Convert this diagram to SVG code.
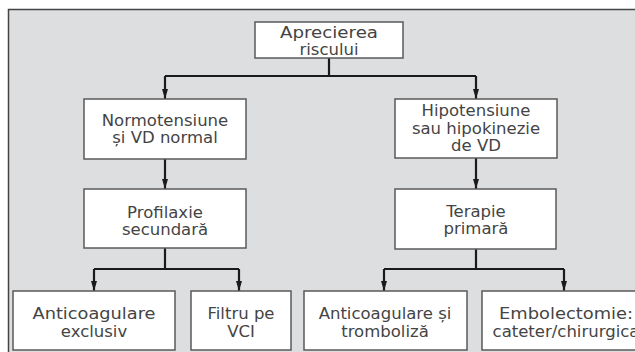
<svg xmlns="http://www.w3.org/2000/svg" width="635" height="352" viewBox="0 0 635 352">
  <defs>
    <marker id="tip" viewBox="0 0 10 6" refX="10" refY="3" markerWidth="10" markerHeight="6" markerUnits="userSpaceOnUse" orient="auto">
      <path d="M0,0 L10,3 L0,6 Z" fill="#1a1a1a"/>
    </marker>
  </defs>
  <style>
    .box { fill: #ffffff; stroke: #5a5a5a; stroke-width: 1.5; }
    .lbl { font-family: "DejaVu Sans", "Liberation Sans", sans-serif; font-size: 16.5px; fill: #444444; text-anchor: middle; }
    .edge { fill: none; stroke: #1a1a1a; stroke-width: 2.2; }
    .arr { fill: none; stroke: #1a1a1a; stroke-width: 2.2; marker-end: url(#tip); }
  </style>

  <!-- page and panel -->
  <rect x="0" y="0" width="635" height="352" fill="#ffffff"/>
  <rect x="8.5" y="9.5" width="640" height="350" fill="#dddee0" stroke="#444444" stroke-width="1.5"/>

  <!-- connectors -->
  <g id="connectors">
    <path class="edge" d="M329,58 V76 M165,76 H476"/>
    <path class="arr" d="M165,76 V99"/>
    <path class="arr" d="M476,76 V99"/>
    <path class="arr" d="M165,159 V189"/>
    <path class="arr" d="M476,158 V189"/>
    <path class="edge" d="M165,248 V269 M94,269 H239"/>
    <path class="arr" d="M94,269 V291"/>
    <path class="arr" d="M239,269 V291"/>
    <path class="edge" d="M476,249 V269 M384,269 H564"/>
    <path class="arr" d="M384,269 V291"/>
    <path class="arr" d="M564,269 V291"/>
  </g>

  <g id="risk">
    <rect class="box" x="255" y="22" width="148" height="36"/>
    <text class="lbl" x="329" y="38" textLength="98" lengthAdjust="spacingAndGlyphs">Aprecierea</text>
    <text class="lbl" x="329" y="55">riscului</text>
  </g>

  <g id="normotension">
    <rect class="box" x="84" y="99" width="162" height="60"/>
    <text class="lbl" x="165" y="126">Normotensiune</text>
    <text class="lbl" x="165" y="143">și VD normal</text>
  </g>

  <g id="hypotension">
    <rect class="box" x="395" y="99" width="162" height="59"/>
    <text class="lbl" x="476" y="116">Hipotensiune</text>
    <text class="lbl" x="476" y="134">sau hipokinezie</text>
    <text class="lbl" x="476" y="151">de VD</text>
  </g>

  <g id="secondary-prophylaxis">
    <rect class="box" x="84" y="189" width="162" height="59"/>
    <text class="lbl" x="165" y="218">Profilaxie</text>
    <text class="lbl" x="165" y="235">secundară</text>
  </g>

  <g id="primary-therapy">
    <rect class="box" x="395" y="189" width="161" height="60"/>
    <text class="lbl" x="476" y="217">Terapie</text>
    <text class="lbl" x="476" y="234">primară</text>
  </g>

  <g id="anticoag-only">
    <rect class="box" x="13" y="291" width="162" height="59"/>
    <text class="lbl" x="94" y="319" textLength="123" lengthAdjust="spacingAndGlyphs">Anticoagulare</text>
    <text class="lbl" x="94" y="337">exclusiv</text>
  </g>

  <g id="vci-filter">
    <rect class="box" x="191" y="291" width="100" height="59"/>
    <text class="lbl" x="241" y="319">Filtru pe</text>
    <text class="lbl" x="241" y="337">VCI</text>
  </g>

  <g id="anticoag-thrombolysis">
    <rect class="box" x="304" y="291" width="163" height="59"/>
    <text class="lbl" x="385" y="319">Anticoagulare și</text>
    <text class="lbl" x="385" y="337">tromboliză</text>
  </g>

  <g id="embolectomy">
    <rect class="box" x="482" y="291" width="164" height="59"/>
    <text class="lbl" x="566" y="319" textLength="134" lengthAdjust="spacingAndGlyphs">Embolectomie:</text>
    <text class="lbl" x="566" y="337">cateter/chirurgica</text>
  </g>
</svg>
